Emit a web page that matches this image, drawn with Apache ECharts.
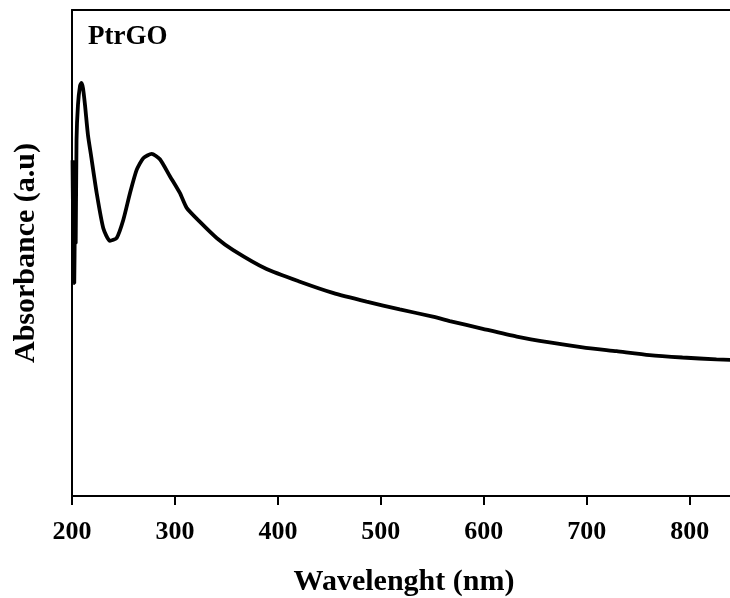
<!DOCTYPE html>
<html>
<head>
<meta charset="utf-8">
<script src="https://cdn.jsdelivr.net/npm/echarts@6/dist/echarts.min.js"></script>
<style>
html,body{margin:0;padding:0;background:#fff;}
#chart{width:730px;height:598px;}
</style>
</head>
<body>
<div id="chart"></div>
<script>
var wavelength = [200.5, 201.0, 201.5, 202.2, 202.7, 203.1, 203.6, 204.4, 205.8, 207.8, 209.2, 210.7, 212.6, 215.5, 218.4, 224.0, 230.4, 236.9, 243.4, 249.8, 256.3, 262.8, 269.2, 277.4, 285.4, 295.1, 304.9, 311.4, 324.3, 340.5, 356.6, 389.0, 421.4, 453.4, 486.1, 518.4, 550.5, 567.0, 599.0, 632.0, 664.0, 696.0, 729.0, 761.0, 793.0, 826.0, 839.0, 845.0];
var absorbance = [69.1, 58.0, 54.7, 43.8, 55.0, 60.9, 52.0, 73.3, 80.5, 84.4, 85.0, 83.9, 80.5, 74.3, 70.2, 62.3, 55.1, 52.5, 53.1, 56.8, 62.3, 67.1, 69.5, 70.4, 69.3, 65.8, 62.3, 59.3, 56.4, 53.1, 50.6, 46.7, 44.1, 41.8, 40.0, 38.4, 36.9, 36.0, 34.4, 32.8, 31.6, 30.6, 29.8, 29.0, 28.5, 28.1, 28.0, 27.9];
var xTicks = [200, 300, 400, 500, 600, 700, 800];
var sampleLabel = 'PtrGO';
var xTitle = 'Wavelenght (nm)';
var yTitle = 'Absorbance (a.u)';

var seriesData = wavelength.map(function (w, i) { return [w, absorbance[i]]; });
var chart = echarts.init(document.getElementById('chart'));
var font = '"Liberation Serif", "Times New Roman", serif';
chart.setOption({
  animation: false,
  backgroundColor: '#fff',
  grid: { left: 72, top: 10, right: -6, bottom: 102, containLabel: false, outerBoundsMode: 'none' },
  xAxis: [{
    type: 'value', min: 200, max: 845, interval: 100, position: 'bottom',
    axisLine: { show: true, onZero: false, lineStyle: { color: '#000', width: 2 } },
    axisTick: { show: true, inside: false, length: 9, lineStyle: { color: '#000', width: 2 } },
    axisLabel: {
      color: '#000', fontFamily: font, fontWeight: 'bold', fontSize: 26, margin: 23,
      formatter: function (v) { return xTicks.indexOf(v) >= 0 ? String(v) : ''; }
    },
    splitLine: { show: false },
    name: xTitle, nameLocation: 'middle', nameGap: 71,
    nameTextStyle: { color: '#000', fontFamily: font, fontWeight: 'bold', fontSize: 30 }
  }, {
    type: 'value', min: 200, max: 845, position: 'top',
    axisLine: { show: true, onZero: false, lineStyle: { color: '#000', width: 2 } },
    axisTick: { show: false }, axisLabel: { show: false }, splitLine: { show: false }
  }],
  yAxis: {
    type: 'value', min: 0, max: 100,
    axisLine: { show: true, onZero: false, lineStyle: { color: '#000', width: 2 } },
    axisTick: { show: false }, axisLabel: { show: false }, splitLine: { show: false },
    name: yTitle, nameLocation: 'middle', nameGap: 31, nameRotate: 90,
    nameTextStyle: { color: '#000', fontFamily: font, fontWeight: 'bold', fontSize: 30 }
  },
  series: [{
    type: 'line', data: seriesData, showSymbol: false, smooth: 0.2,
    lineStyle: { color: '#000', width: 3.8 }, clip: true
  }],
  graphic: [{
    type: 'text', left: 88, top: 24,
    style: { text: sampleLabel, fill: '#000', font: 'bold 27px ' + font }
  }]
});
</script>
</body>
</html>
